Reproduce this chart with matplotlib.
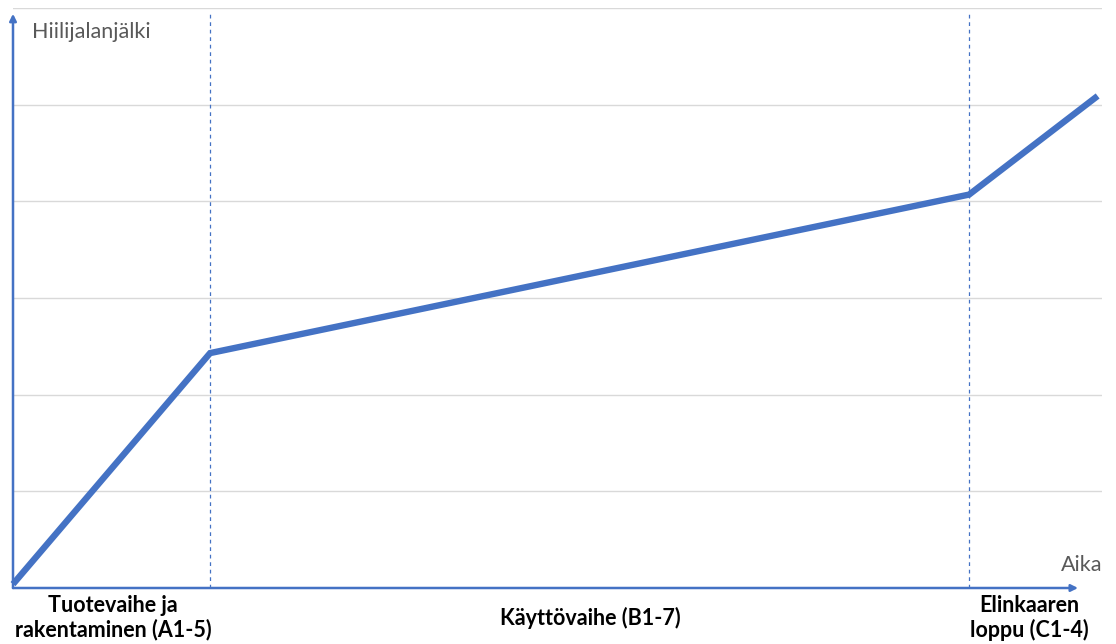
import matplotlib
matplotlib.use("Agg")
import matplotlib.pyplot as plt

# Data (x in relative time units, y in relative carbon footprint units)
time_points = [0.0, 18.1, 87.8, 99.6]
footprint = [0.04, 2.43, 4.07, 5.09]
phase_bounds = [18.1, 87.8]
phase_labels = ["Tuotevaihe ja\nrakentaminen (A1-5)", "Käyttövaihe (B1-7)", "Elinkaaren\nloppu (C1-4)"]
phase_label_x = [9.2, 53.0, 93.3]
y_title = "Hiilijalanjälki"
x_title = "Aika"

BLUE = "#4472C4"
W, H = 1116, 644
fig = plt.figure(figsize=(W / 100, H / 100), dpi=100)
ax = fig.add_axes([13 / W, (644 - 588) / H, (1102 - 13) / W, (588 - 8) / H])
ax.set_xlim(0, 100)
ax.set_ylim(0, 6)
for s in ax.spines.values():
    s.set_visible(False)
ax.set_xticks([])
ax.set_yticks([])

for g in range(1, 7):
    ax.axhline(g, color="#d9d9d9", lw=1.0, zorder=0)

for b in phase_bounds:
    ax.plot([b, b], [0, 5.94], color=BLUE, lw=0.9, ls=(0, (3, 3)), zorder=1)

ax.plot(time_points, footprint, color=BLUE, lw=4.6, solid_capstyle="butt",
        solid_joinstyle="miter", zorder=3, clip_on=False)

# Axis arrows
ax.annotate("", xy=(0, 0.99), xytext=(0, 0), xycoords="axes fraction",
            arrowprops=dict(arrowstyle="-|>", color=BLUE, lw=1.8,
                            mutation_scale=10, shrinkA=0, shrinkB=0), zorder=4)
ax.annotate("", xy=(0.978, 0), xytext=(0, 0), xycoords="axes fraction",
            arrowprops=dict(arrowstyle="-|>", color=BLUE, lw=1.8,
                            mutation_scale=10, shrinkA=0, shrinkB=0), zorder=4)

ax.text(0.017, 0.958, y_title, transform=ax.transAxes, ha="left", va="center",
        fontsize=15.5, color="#595959", family="Lato")
ax.text(1.0, 0.04, x_title, transform=ax.transAxes, ha="right", va="center",
        fontsize=15.5, color="#595959", family="Lato")

for lx, lab in zip(phase_label_x, phase_labels):
    ax.text(lx, -0.31, lab, ha="center", va="center", fontsize=15.5,
            fontweight="bold", family="Lato", color="black",
            linespacing=1.15, clip_on=False)

fig.savefig("out.png", dpi=100)
